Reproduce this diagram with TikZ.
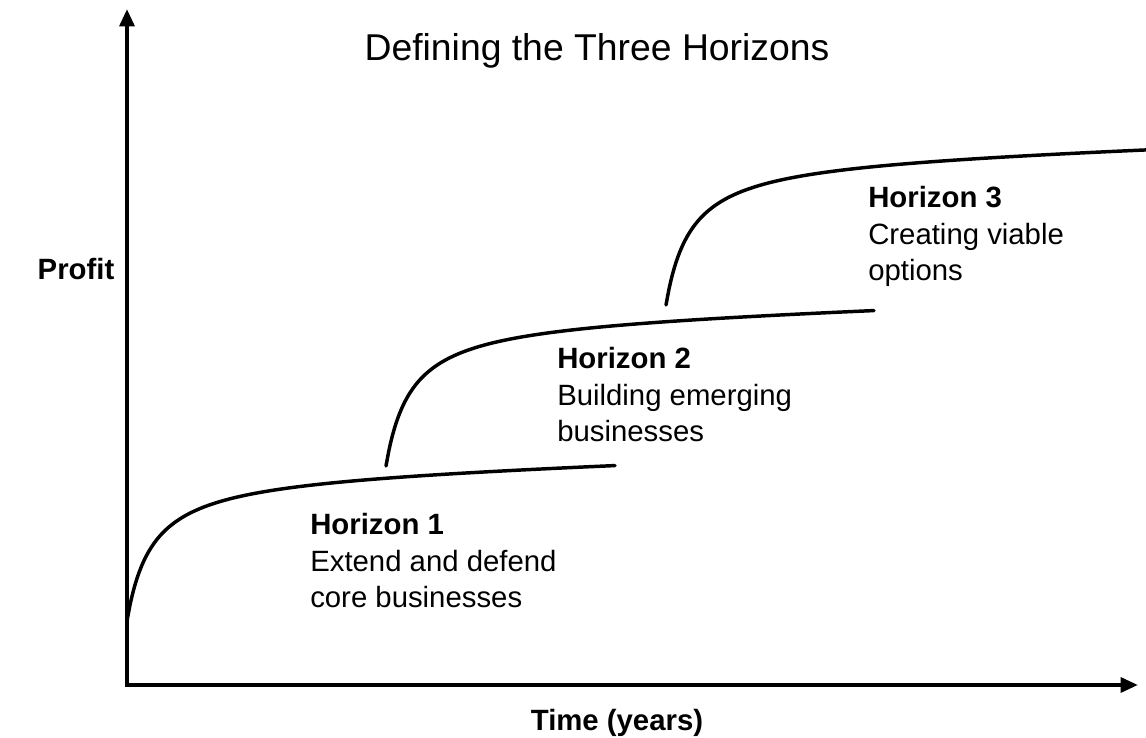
\documentclass[tikz,border=0pt]{standalone}
\usepackage{fontspec}
\setmainfont{Liberation Sans}
\usetikzlibrary{arrows.meta}
\tikzset{
  axis/.style={line width=3pt, -{Triangle[length=13pt,width=11pt]}},
  horizon/.style={line width=2.6pt, line cap=round, line join=round},
  label/.style={inner sep=0pt, align=left, anchor=north west, font=\fontsize{22}{27.4}\selectfont},
  axlabel/.style={inner sep=0pt, anchor=base, font=\fontsize{22}{27}\selectfont\bfseries},
}
\begin{document}
\begin{tikzpicture}[x=0.75pt, y=-0.75pt]
\useasboundingbox (0,0) rectangle (1146,738);
% axes
\coordinate (origin) at (127,685);
\coordinate (ytop) at (127,9);
\coordinate (xend) at (1138,685);
\draw[axis] ([yshift=-1.5pt]origin) -- (ytop);
\draw[axis] ([xshift=-1.5pt]origin) -- (xend);
% curves
\coordinate (h1s) at (127,621);
\coordinate (h2s) at (386,466);
\coordinate (h3s) at (666,305);
\foreach \s in {h1s,h2s,h3s}{
  \draw[horizon, shift={(\s)}] plot[domain=0:488, samples=160, smooth]
     ({\x}, {-((\x/(\x+25))*148+0.03*\x)});
}
% texts
\node[font=\fontsize{28}{30}\selectfont, anchor=base] (title) at (597,61) {Defining the Three Horizons};
\node[axlabel] (profit) at (76,279) {Profit};
\node[axlabel] (time) at (617,730) {Time (years)};
\node[label] (h1) at (310,513) {\textbf{Horizon 1}\\Extend and defend\\core businesses};
\node[label] (h2) at (557,347) {\textbf{Horizon 2}\\Building emerging\\businesses};
\node[label] (h3) at (868,186) {\textbf{Horizon 3}\\Creating viable\\options};
\end{tikzpicture}
\end{document}
